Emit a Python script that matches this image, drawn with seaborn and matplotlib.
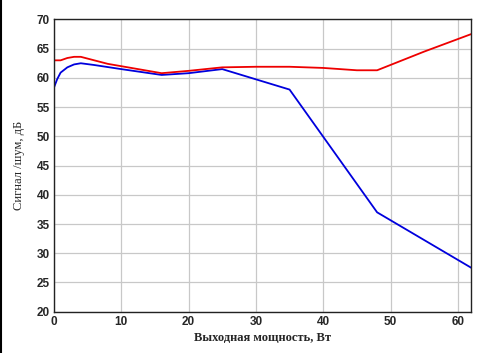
import pandas as pd
import matplotlib
matplotlib.use("Agg")
import matplotlib.pyplot as plt
from matplotlib.lines import Line2D
import seaborn as sns

# red curve
red_x = [0, 1, 2, 3, 4, 6, 8, 10, 13, 16, 20, 25, 30, 35, 40, 45, 48, 55, 62]
red_y = [63.0, 63.0, 63.4, 63.6, 63.6, 63.0, 62.4, 62.0, 61.4, 60.8, 61.2, 61.8, 61.9, 61.9, 61.7, 61.3, 61.3, 64.5, 67.5]

# blue curve
blue_x = [0, 0.5, 1, 2, 3, 4, 6, 10, 13, 16, 20, 25, 35, 48, 62]
blue_y = [58.3, 59.8, 60.9, 61.8, 62.3, 62.5, 62.2, 61.5, 61.0, 60.5, 60.8, 61.5, 58.0, 37.0, 27.5]

x_ticks = [0, 10, 20, 30, 40, 50, 60]
y_ticks = [20, 25, 30, 35, 40, 45, 50, 55, 60, 65, 70]

sns.set_style("whitegrid")
plt.rcParams['font.family'] = ['Liberation Serif', 'DejaVu Serif']

df_red = pd.DataFrame({'x': red_x, 'y': red_y})
df_blue = pd.DataFrame({'x': blue_x, 'y': blue_y})

fig = plt.figure(figsize=(4.81, 3.53), dpi=100)
ax = fig.add_axes([0.112, 0.117, 0.868, 0.828])

sns.lineplot(data=df_blue, x='x', y='y', color='#0000dd', linewidth=1.3, ax=ax)
sns.lineplot(data=df_red, x='x', y='y', color='#ee0000', linewidth=1.3, ax=ax)

ax.set_xlim(0, 62)
ax.set_ylim(20, 70)
ax.set_xticks(x_ticks)
ax.set_yticks(y_ticks)
ax.grid(True, color='#c8c8c8', linewidth=0.9)
for s in ax.spines.values():
    s.set_visible(True)
    s.set_color('#222222')
    s.set_linewidth(1.0)
ax.tick_params(axis='both', labelsize=8.5, length=0, pad=3)
for lab in ax.get_xticklabels() + ax.get_yticklabels():
    lab.set_fontweight('bold')
    lab.set_family(['Liberation Sans', 'DejaVu Sans'])
ax.set_xlabel('Выходная мощность, Вт', fontsize=9, fontweight='bold', labelpad=3)
ax.set_ylabel('Сигнал /шум, дБ', fontsize=9, labelpad=8)

# black line on the left edge of the picture
fig.lines.append(Line2D([0.003, 0.003], [0, 1], transform=fig.transFigure,
                        color='black', linewidth=1.5))

fig.savefig('out.png', dpi=100)
